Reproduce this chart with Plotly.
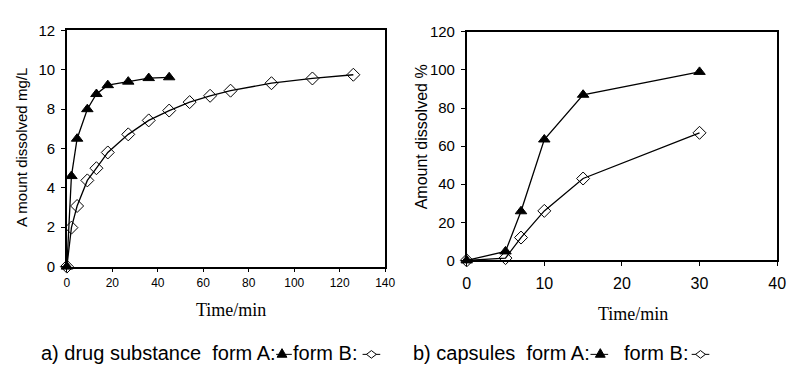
import plotly.graph_objects as go

W, H = 794, 370

# (a) drug substance, mg/L
t_sub_A = [0, 2, 4.5, 9, 13, 18, 27, 36, 45]
c_sub_A = [0, 4.6, 6.5, 8.0, 8.77, 9.22, 9.4, 9.58, 9.62]
t_sub_B = [0, 2, 4.5, 9, 13, 18, 27, 36, 45, 54, 63, 72, 90, 108, 126]
c_sub_B = [0, 1.98, 3.08, 4.38, 5.0, 5.8, 6.72, 7.43, 7.93, 8.36, 8.68, 8.94, 9.32, 9.56, 9.75]

# (b) capsules, % dissolved
t_cap = [0, 5, 7, 10, 15, 30]
p_cap_A = [0, 4.7, 25.8, 63.5, 87, 99]
p_cap_B = [0, 1.2, 12, 26, 43, 67]

x_ticks_a = [0, 20, 40, 60, 80, 100, 120, 140]
y_ticks_a = [0, 2, 4, 6, 8, 10, 12]
x_ticks_b = [0, 10, 20, 30, 40]
y_ticks_b = [0, 20, 40, 60, 80, 100, 120]

SANS = "Liberation Sans, Arial, sans-serif"
SERIF = "Liberation Serif, Times New Roman, serif"


def px_x(p):
    return p / W


def px_y(p):
    return 1 - p / H


line_style = dict(color="black", width=1.3)
tri = dict(symbol="triangle-up", size=10, color="black", line=dict(color="black", width=1))
dia = dict(symbol="diamond-open", size=10, color="black", line=dict(color="black", width=1))

fig = go.Figure()
fig.add_trace(go.Scatter(x=t_sub_A, y=c_sub_A, mode="lines+markers", line=line_style,
                         marker=tri, xaxis="x", yaxis="y", cliponaxis=False))
fig.add_trace(go.Scatter(x=t_sub_B, y=c_sub_B, mode="lines+markers", line=line_style,
                         marker=dia, xaxis="x", yaxis="y", cliponaxis=False))
fig.add_trace(go.Scatter(x=t_cap, y=p_cap_B, mode="lines+markers", line=line_style,
                         marker=dia, xaxis="x2", yaxis="y2", cliponaxis=False))
fig.add_trace(go.Scatter(x=t_cap, y=p_cap_A, mode="lines+markers", line=line_style,
                         marker=tri, xaxis="x2", yaxis="y2", cliponaxis=False))

axis_common = dict(showline=True, linecolor="black", linewidth=1.5, mirror=True,
                   ticks="outside", ticklen=4, tickcolor="black", tickwidth=1.2,
                   showgrid=False, zeroline=False, fixedrange=True)

fig.update_layout(
    width=W, height=H,
    margin=dict(l=0, r=0, t=0, b=0),
    paper_bgcolor="white", plot_bgcolor="white",
    showlegend=False,
    xaxis=dict(domain=[px_x(64), px_x(388)], range=[0, 140], tickvals=x_ticks_a,
               tickfont=dict(family=SANS, size=12, color="black"), anchor="y", **axis_common),
    yaxis=dict(domain=[px_y(270), px_y(22.5)], range=[0, 12], tickvals=y_ticks_a,
               ticklabelstandoff=3,
               tickfont=dict(family=SANS, size=15, color="black"), anchor="x", **axis_common),
    xaxis2=dict(domain=[px_x(471), px_x(787)], range=[0, 40], tickvals=x_ticks_b,
                ticklabelstandoff=4,
                tickfont=dict(family=SANS, size=16, color="black"), anchor="y2", **axis_common),
    yaxis2=dict(domain=[px_y(263.5), px_y(24)], range=[0, 120], tickvals=y_ticks_b,
                ticklabelstandoff=3,
                tickfont=dict(family=SANS, size=15, color="black"), anchor="x2", **axis_common),
)

ann = []
# axis titles
ann.append(dict(x=px_x(18), y=px_y(145), text="A mount dissolved mg/L", textangle=-90,
                font=dict(family=SANS, size=15, color="black")))
ann.append(dict(x=px_x(425), y=px_y(134), text="Amount dissolved %", textangle=-90,
                font=dict(family=SANS, size=16, color="black")))
ann.append(dict(x=px_x(231), y=px_y(316), text="Time/min",
                font=dict(family=SERIF, size=18, color="black")))
ann.append(dict(x=px_x(640), y=px_y(320), text="Time/min",
                font=dict(family=SERIF, size=18, color="black")))

# captions
cap_font = dict(family=SANS, size=20, color="black")
cap_y = 361
for x0, txt in [(36, "a) drug substance  form A:"), (292, "form B:"),
                (414, "b) capsules  form A:"), (629, "form B:")]:
    ann.append(dict(x=px_x(x0), y=px_y(cap_y), text=txt, xanchor="left", font=cap_font))

for a in ann:
    a.setdefault("xref", "paper")
    a.setdefault("yref", "paper")
    a.setdefault("showarrow", False)
    a.setdefault("yanchor", "middle")
    a.setdefault("xanchor", "center")
fig.update_layout(annotations=ann)

# caption glyphs: short line with a marker on it
shapes = []


def glyph(cx, x0, x1, kind):
    cy = cap_y + 1
    shapes.append(dict(type="line", xref="paper", yref="paper",
                       x0=px_x(x0), x1=px_x(x1), y0=px_y(cy), y1=px_y(cy),
                       line=dict(color="black", width=1)))
    if kind == "tri":
        path = f"M {px_x(cx-5)} {px_y(cy+3)} L {px_x(cx+5)} {px_y(cy+3)} L {px_x(cx)} {px_y(cy-6)} Z"
        shapes.append(dict(type="path", xref="paper", yref="paper", path=path,
                           fillcolor="black", line=dict(color="black", width=1)))
    else:
        path = (f"M {px_x(cx-5)} {px_y(cy)} L {px_x(cx)} {px_y(cy-4)} "
                f"L {px_x(cx+5)} {px_y(cy)} L {px_x(cx)} {px_y(cy+4)} Z")
        shapes.append(dict(type="path", xref="paper", yref="paper", path=path,
                           fillcolor="white", line=dict(color="black", width=1)))


glyph(283, 277, 293, "tri")
glyph(374, 365, 383, "dia")
glyph(607, 597, 615, "tri")
glyph(709, 700, 718, "dia")
fig.update_layout(shapes=shapes)

fig.write_html("out.html")
